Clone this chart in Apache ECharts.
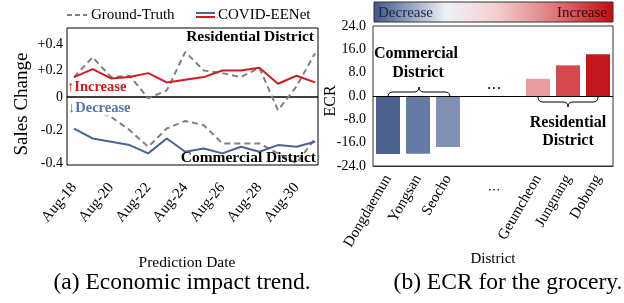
<!DOCTYPE html>
<html>
<head>
<meta charset="utf-8">
<script src="https://cdn.jsdelivr.net/npm/echarts@6/dist/echarts.min.js"></script>
<style>
  html, body { margin: 0; padding: 0; background: #fff; }
  #chart { width: 624px; height: 303px; }
</style>
</head>
<body>
<div id="chart"></div>
<script>
// (a) daily sales change, Aug-18 .. Aug-31
const days = [18, 19, 20, 21, 22, 23, 24, 25, 26, 27, 28, 29, 30, 31];
const dayTicks = [18, 20, 22, 24, 26, 28, 30];
const resTruth = [0.15, 0.30, 0.15, 0.16, -0.01, 0.05, 0.34, 0.20, 0.18, 0.15, 0.22, -0.10, 0.08, 0.33];
const resPred = [0.15, 0.21, 0.14, 0.15, 0.18, 0.11, 0.13, 0.15, 0.20, 0.20, 0.22, 0.10, 0.16, 0.11];
const comTruth = [-0.04, -0.08, -0.12, -0.20, -0.30, -0.19, -0.145, -0.17, -0.28, -0.28, -0.28, -0.34, -0.40, -0.25];
const comPred = [-0.19, -0.25, -0.27, -0.29, -0.34, -0.25, -0.33, -0.31, -0.34, -0.30, -0.33, -0.29, -0.30, -0.27];
const upTicks = [0, 0.2, 0.4];
const downTicks = [-0.2, -0.4];

// (b) ECR per district
const districts = ['Dongdaemun', 'Yongsan', 'Seocho', '', '', 'Geumcheon', 'Jungnang', 'Dobong'];
const ecr = [-19.9, -19.8, -17.5, null, null, 5.9, 10.5, 14.3];
const barColors = ['#4b618f', '#657aa5', '#8191b6', '#fff', '#fff', '#e89c9f', '#d5494d', '#c5161b'];

const FONT = '"Liberation Serif", "DejaVu Serif", serif';
const RED = '#d01c1f';
const BLUE = '#4a6396';
const GRAY = '#808080';

const pairs = (arr) => arr.map((v, i) => [days[i], v]);

// curly brace made of quadratic curves; dir = -1 tip up, +1 tip down
function brace(x1, x2, y, dir) {
  const m = (x1 + x2) / 2, h = 5 * dir;
  const st = { stroke: '#000', lineWidth: 1, fill: null };
  const q = (ax, ay, cx, cy, bx, by) => ({ type: 'bezierCurve', z: 100, shape: { x1: ax, y1: ay, cpx1: cx, cpy1: cy, x2: bx, y2: by }, style: st });
  return [
    q(x1, y, x1, y + h, x1 + 5, y + h),
    { type: 'line', z: 100, shape: { x1: x1 + 5, y1: y + h, x2: m - 5, y2: y + h }, style: st },
    q(m - 5, y + h, m, y + h, m, y + 2 * h),
    q(m, y + 2 * h, m, y + h, m + 5, y + h),
    { type: 'line', z: 100, shape: { x1: m + 5, y1: y + h, x2: x2 - 5, y2: y + h }, style: st },
    q(x2 - 5, y + h, x2, y + h, x2, y)
  ];
}

const txt = (x, y, text, font, extra) => ({
  type: 'text', z: 100, x: x, y: y,
  style: Object.assign({ text: text, font: font + ' ' + FONT, fill: '#000', align: 'center', verticalAlign: 'middle' }, extra || {})
});

const chart = echarts.init(document.getElementById('chart'));

const option = {
  animation: false,
  backgroundColor: '#fff',
  textStyle: { fontFamily: FONT, color: '#000' },
  grid: [
    { left: 67, top: 28, width: 251, height: 69, show: true, borderColor: '#000', borderWidth: 1, backgroundColor: 'transparent' },
    { left: 67, top: 97, width: 251, height: 68, show: true, borderColor: '#000', borderWidth: 1, backgroundColor: 'transparent' },
    { left: 373, top: 26, width: 240, height: 140, show: true, borderColor: '#333', borderWidth: 1, backgroundColor: 'transparent' }
  ],
  xAxis: [
    { gridIndex: 0, type: 'value', min: 17.62, max: 31.16, show: false },
    {
      gridIndex: 1, type: 'value', min: 17.62, max: 31.16,
      splitLine: { show: false },
      axisLine: { show: false },
      axisTick: { show: false },
      axisLabel: {
        customValues: dayTicks,
        rotate: 50, margin: 20, fontSize: 15, fontFamily: FONT, color: '#000',
        formatter: (v) => 'Aug-' + v
      }
    },
    {
      gridIndex: 2, type: 'category', data: districts,
      axisLine: { onZero: false, lineStyle: { color: '#333' } },
      axisTick: { show: false },
      axisLabel: { rotate: 60, margin: 10, fontSize: 15, fontFamily: FONT, color: '#000', interval: 0 }
    }
  ],
  yAxis: [
    {
      gridIndex: 0, type: 'value', min: 0, max: 0.52,
      splitLine: { show: false }, axisLine: { show: false }, axisTick: { show: false },
      axisLabel: {
        customValues: upTicks, margin: 4, fontSize: 14, fontFamily: FONT, color: '#000',
        formatter: (v) => v === 0 ? '0' : '+' + v.toFixed(1)
      }
    },
    {
      gridIndex: 1, type: 'value', min: -0.41, max: 0,
      splitLine: { show: false }, axisLine: { show: false }, axisTick: { show: false },
      axisLabel: {
        customValues: downTicks, margin: 4, fontSize: 14, fontFamily: FONT, color: '#000',
        formatter: (v) => v.toFixed(1)
      }
    },
    {
      gridIndex: 2, type: 'value', min: -24, max: 24, interval: 8,
      splitLine: { show: false }, axisLine: { show: false }, axisTick: { show: false },
      axisLabel: { margin: 7, fontSize: 14, fontFamily: FONT, color: '#000', formatter: (v) => v.toFixed(1) }
    }
  ],
  series: [
    {
      name: 'Ground-Truth', type: 'line', xAxisIndex: 0, yAxisIndex: 0, clip: false,
      data: pairs(resTruth), symbol: 'none', z: 3,
      lineStyle: { color: GRAY, width: 2, type: [6, 4] }
    },
    {
      name: 'COVID-EENet', type: 'line', xAxisIndex: 0, yAxisIndex: 0, clip: false,
      data: pairs(resPred), symbol: 'none', z: 4,
      lineStyle: { color: RED, width: 2 }
    },
    {
      name: 'Ground-Truth', type: 'line', xAxisIndex: 1, yAxisIndex: 1, clip: false,
      data: pairs(comTruth), symbol: 'none', z: 3,
      lineStyle: { color: GRAY, width: 2, type: [6, 4] }
    },
    {
      name: 'COVID-EENet', type: 'line', xAxisIndex: 1, yAxisIndex: 1, clip: false,
      data: pairs(comPred), symbol: 'none', z: 4,
      lineStyle: { color: BLUE, width: 2 }
    },
    {
      name: 'ECR', type: 'bar', xAxisIndex: 2, yAxisIndex: 2,
      barWidth: 24,
      data: ecr.map((v, i) => ({ value: v, itemStyle: { color: barColors[i] } })),
      markLine: {
        silent: true, symbol: 'none', label: { show: false },
        lineStyle: { color: '#000', width: 1, type: 'solid' },
        data: [{ yAxis: 0 }]
      }
    }
  ],
  graphic: [
    // legend
    { type: 'line', z: 100, shape: { x1: 67, y1: 15, x2: 87, y2: 15 }, style: { stroke: GRAY, lineWidth: 2, lineDash: [5, 3] } },
    txt(91, 15, 'Ground-Truth', '15px', { align: 'left' }),
    { type: 'line', z: 100, shape: { x1: 196, y1: 13, x2: 215, y2: 13 }, style: { stroke: BLUE, lineWidth: 2 } },
    { type: 'line', z: 100, shape: { x1: 196, y1: 17, x2: 215, y2: 17 }, style: { stroke: RED, lineWidth: 2 } },
    txt(218, 15, 'COVID-EENet', '15px', { align: 'left' }),
    // panel notes
    txt(314, 37, 'Residential District', 'bold 15.5px', { align: 'right' }),
    txt(316, 158, 'Commercial District', 'bold 15.5px', { align: 'right' }),
    txt(67, 87, '↑Increase', 'bold 14.5px', { align: 'left', fill: RED }),
    txt(68, 108, '↓Decrease', 'bold 14.5px', { align: 'left', fill: '#5a72a6', backgroundColor: '#fff' }),
    // axis titles and captions
    Object.assign(txt(22, 104, 'Sales Change', '19px'), { rotation: Math.PI / 2 }),
    txt(187, 263, 'Prediction Date', '15.5px'),
    txt(182, 283, '(a) Economic impact trend.', '23.5px'),
    Object.assign(txt(331, 101, 'ECR', '16px'), { rotation: Math.PI / 2 }),
    txt(493, 259, 'District', '15px'),
    txt(508, 283, '(b) ECR for the grocery.', '23.5px'),
    // colour bar
    {
      type: 'rect', z: 100, shape: { x: 374, y: 2, width: 239, height: 20 },
      style: {
        stroke: '#333', lineWidth: 1,
        fill: new echarts.graphic.LinearGradient(0, 0, 1, 0, [
          { offset: 0, color: '#3b5589' },
          { offset: 0.3, color: '#eef0f7' },
          { offset: 0.5, color: '#f4d2d3' },
          { offset: 0.75, color: '#df7a7d' },
          { offset: 1, color: '#c20b10' }
        ])
      }
    },
    Object.assign(txt(378, 13, 'Decrease', '15px', { align: 'left', fill: '#1d2740' }), { z: 101 }),
    Object.assign(txt(607, 13, 'Increase', '15px', { align: 'right', fill: '#2a0a0a' }), { z: 101 }),
    // dots between groups
    txt(494, 89, '• • •', '8px'),
    txt(494, 190, '• • •', '7px'),
    // group notes with braces
    txt(416, 54, 'Commercial', 'bold 16px'),
    txt(418, 73, 'District', 'bold 16px'),
    ...brace(388, 450, 97, -1),
    ...brace(538, 598, 97, 1),
    txt(568, 123, 'Residential', 'bold 16px'),
    txt(568, 141, 'District', 'bold 16px')
  ]
};

chart.setOption(option);
</script>
</body>
</html>
